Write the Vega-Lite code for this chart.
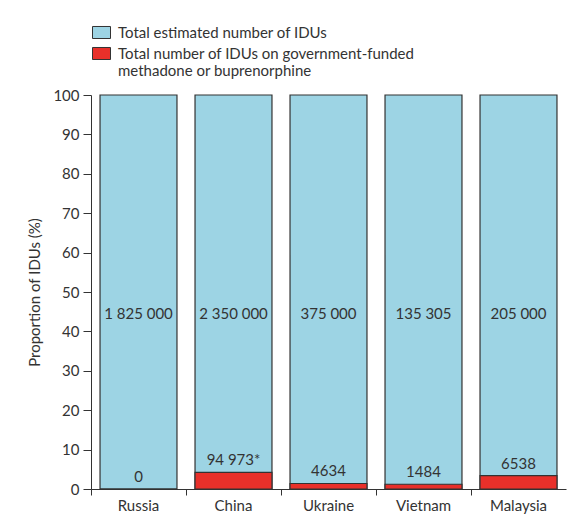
{
  "$schema": "https://vega.github.io/schema/vega-lite/v6.json",
  "width": 475,
  "height": 394,
  "autosize": {"type": "none"},
  "padding": {"left": 91, "top": 95, "right": 8, "bottom": 28},
  "background": "white",
  "config": {
    "font": "Lato",
    "view": {"stroke": null},
    "axis": {
      "labelFont": "Lato",
      "titleFont": "Lato",
      "labelFontSize": 15,
      "titleFontSize": 15,
      "labelColor": "#333",
      "titleColor": "#333",
      "titleFontWeight": "normal",
      "domainColor": "#333",
      "tickColor": "#333",
      "grid": false
    },
    "legend": {"labelFont": "Lato", "labelFontSize": 15, "labelColor": "#333"}
  },
  "data": {
    "values": [
      {"country": "Russia", "series": "Total estimated number of IDUs", "pct": 100, "label": "1 825 000"},
      {"country": "China", "series": "Total estimated number of IDUs", "pct": 100, "label": "2 350 000"},
      {"country": "Ukraine", "series": "Total estimated number of IDUs", "pct": 100, "label": "375 000"},
      {"country": "Vietnam", "series": "Total estimated number of IDUs", "pct": 100, "label": "135 305"},
      {"country": "Malaysia", "series": "Total estimated number of IDUs", "pct": 100, "label": "205 000"},
      {"country": "Russia", "series": "Total number of IDUs on government-funded methadone or buprenorphine", "pct": 0, "label": "0"},
      {"country": "China", "series": "Total number of IDUs on government-funded methadone or buprenorphine", "pct": 4.2, "label": "94 973*"},
      {"country": "Ukraine", "series": "Total number of IDUs on government-funded methadone or buprenorphine", "pct": 1.4, "label": "4634"},
      {"country": "Vietnam", "series": "Total number of IDUs on government-funded methadone or buprenorphine", "pct": 1.2, "label": "1484"},
      {"country": "Malaysia", "series": "Total number of IDUs on government-funded methadone or buprenorphine", "pct": 3.4, "label": "6538"}
    ]
  },
  "encoding": {
    "x": {
      "field": "country",
      "type": "nominal",
      "sort": null,
      "title": null,
      "scale": {"paddingInner": 0.19, "paddingOuter": 0.095},
      "axis": {"labelAngle": 0, "tickSize": 6, "labelPadding": 3, "bandPosition": -0.117}
    },
    "y": {
      "field": "pct",
      "type": "quantitative",
      "stack": null,
      "title": "Proportion of IDUs (%)",
      "scale": {"domain": [0, 100]},
      "axis": {"values": [0, 10, 20, 30, 40, 50, 60, 70, 80, 90, 100], "tickSize": 8, "labelPadding": 4, "titlePadding": 10}
    }
  },
  "layer": [
    {
      "transform": [{"filter": "datum.series == 'Total estimated number of IDUs'"}],
      "mark": {"type": "bar", "stroke": "#333", "strokeWidth": 1.2},
      "encoding": {
        "color": {
          "field": "series",
          "type": "nominal",
          "scale": {
            "domain": ["Total estimated number of IDUs", "Total number of IDUs on government-funded methadone or buprenorphine"],
            "range": ["#9dd4e4", "#e8302a"]
          },
          "legend": {
            "title": null,
            "orient": "none",
            "legendX": 1,
            "legendY": -72,
            "symbolType": "M-1,-0.667H1V0.667H-1Z",
            "symbolSize": 324,
            "symbolStrokeColor": "#333",
            "symbolStrokeWidth": 1,
            "labelLimit": 400,
            "labelOffset": 7,
            "rowPadding": 3,
            "labelExpr": "datum.label == 'Total number of IDUs on government-funded methadone or buprenorphine' ? ['Total number of IDUs on government-funded', 'methadone or buprenorphine'] : datum.label"
          }
        }
      }
    },
    {
      "transform": [{"filter": "datum.series != 'Total estimated number of IDUs'"}],
      "mark": {"type": "bar", "stroke": "#333", "strokeWidth": 1.2},
      "encoding": {
        "color": {"field": "series", "type": "nominal"}
      }
    },
    {
      "transform": [{"filter": "datum.series == 'Total estimated number of IDUs'"}],
      "mark": {"type": "text", "fontSize": 15, "color": "#333", "baseline": "middle"},
      "encoding": {
        "y": {"datum": 44.5},
        "text": {"field": "label"}
      }
    },
    {
      "transform": [{"filter": "datum.series != 'Total estimated number of IDUs'"}],
      "mark": {"type": "text", "fontSize": 15, "color": "#333", "baseline": "bottom", "dy": -4},
      "encoding": {
        "text": {"field": "label"}
      }
    }
  ]
}
